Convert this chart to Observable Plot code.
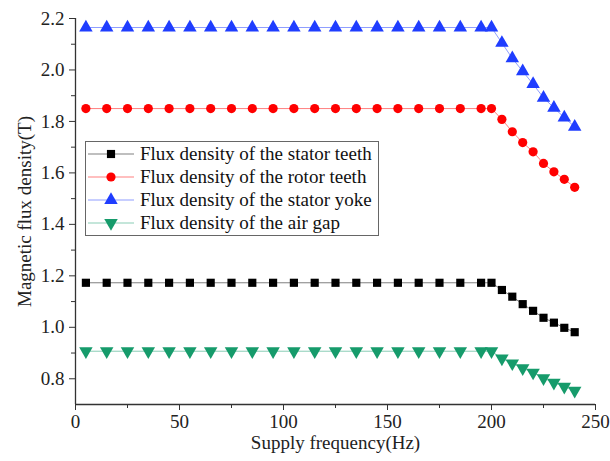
<!DOCTYPE html>
<html>
<head>
<meta charset="utf-8">
<script src="https://cdn.jsdelivr.net/npm/d3@7"></script>
<script src="https://cdn.jsdelivr.net/npm/@observablehq/plot@0.6"></script>
<style>
  html, body { margin: 0; padding: 0; background: #fff; }
  #wrap { position: relative; width: 610px; height: 461px; font-family: "Liberation Serif", "Times New Roman", serif; }
  #chart svg, #chart svg text { font-family: "Liberation Serif", "Times New Roman", serif !important; }
  #legend { position: absolute; left: 85px; top: 141px; width: 294px; height: 95px; border: 1px solid #666; background: #fff; box-sizing: border-box; padding-top: 0px; }
  .row { display: flex; align-items: center; height: 23px; font-size: 19px; color: #111; }
  .row svg { flex: none; margin-left: 2px; margin-right: 6px; }
</style>
</head>
<body>
<div id="wrap"><div id="chart"></div><div id="legend"></div></div>
<script>
const freqs = [5,15,25,35,45,55,65,75,85,95,105,115,125,135,145,155,165,175,185,195,200,205,210,215,220,225,230,235,240];
const statorTeeth = [1.173,1.173,1.173,1.173,1.173,1.173,1.173,1.173,1.173,1.173,1.173,1.173,1.173,1.173,1.173,1.173,1.173,1.173,1.173,1.173,1.173,1.145,1.119,1.090,1.064,1.037,1.018,0.998,0.981];
const rotorTeeth = [1.85,1.85,1.85,1.85,1.85,1.85,1.85,1.85,1.85,1.85,1.85,1.85,1.85,1.85,1.85,1.85,1.85,1.85,1.85,1.85,1.85,1.808,1.760,1.718,1.682,1.637,1.604,1.575,1.544];
const statorYoke = [2.165,2.165,2.165,2.165,2.165,2.165,2.165,2.165,2.165,2.165,2.165,2.165,2.165,2.165,2.165,2.165,2.165,2.165,2.165,2.165,2.165,2.105,2.045,1.995,1.945,1.892,1.853,1.815,1.779];
const airGap = [0.907,0.907,0.907,0.907,0.907,0.907,0.907,0.907,0.907,0.907,0.907,0.907,0.907,0.907,0.907,0.907,0.907,0.907,0.907,0.907,0.907,0.879,0.860,0.841,0.824,0.802,0.785,0.769,0.754];
const seriesNames = ["Flux density of the stator teeth","Flux density of the rotor teeth","Flux density of the stator yoke","Flux density of the air gap"];
const seriesColors = ["#000000","#ff0000","#1f3dff","#169b6b"];
const seriesSymbols = ["square","circle","triangle","triangle"];
const seriesRotate = [0,0,0,180];
const xTicks = [0,50,100,150,200,250];
const xMinor = [25,75,125,175,225];
const yTicks = [0.8,1.0,1.2,1.4,1.6,1.8,2.0,2.2];
const yMinor = [0.9,1.1,1.3,1.5,1.7,1.9,2.1];

const allSeries = [statorTeeth, rotorTeeth, statorYoke, airGap];
const rows = [];
allSeries.forEach((vals, s) => vals.forEach((v, i) => rows.push({f: freqs[i], b: v, s})));

const marks = [];
allSeries.forEach((vals, s) => {
  const d = rows.filter(r => r.s === s);
  marks.push(Plot.line(d, {x: "f", y: "b", stroke: seriesColors[s], strokeWidth: 1, strokeOpacity: 0.5}));
  marks.push(Plot.dot(d, {x: "f", y: "b", symbol: seriesSymbols[s], fill: seriesColors[s], r: s >= 2 ? 5 : 4.6, rotate: seriesRotate[s], stroke: "none"}));
});

const chart = Plot.plot({
  width: 610,
  height: 461,
  marginLeft: 75,
  marginRight: 15,
  marginTop: 18,
  marginBottom: 57,
  style: {fontFamily: "Liberation Serif, serif", fontSize: "19px", color: "#222", background: "#fff"},
  x: {domain: [0, 250]},
  y: {domain: [0.7, 2.2]},
  marks: [
    Plot.axisX({ticks: xMinor, tickSize: 4, tickFormat: () => "", label: null, stroke: "#333"}),
    Plot.axisX({ticks: xTicks, tickSize: 6, tickPadding: 4, label: "Supply frequency(Hz)", labelAnchor: "center", labelArrow: "none", labelOffset: 44, stroke: "#333", fill: "#222"}),
    Plot.axisY({ticks: yMinor, tickSize: 4, tickFormat: () => "", label: null, stroke: "#333"}),
    Plot.axisY({ticks: yTicks, tickSize: 6, tickPadding: 5, tickFormat: d3.format(".1f"), label: "Magnetic flux density(T)", labelAnchor: "center", labelArrow: "none", labelOffset: 58, stroke: "#333", fill: "#222"}),
    Plot.ruleX([0], {stroke: "#333", strokeWidth: 1.3}),
    Plot.ruleY([0.7], {stroke: "#333", strokeWidth: 1.3}),
    ...marks
  ]
});
document.getElementById("chart").appendChild(chart);

const legend = document.getElementById("legend");
const symPaths = seriesSymbols.map((sym, s) => {
  const type = sym === "square" ? d3.symbolSquare : sym === "circle" ? d3.symbolCircle : d3.symbolTriangle;
  const r = s >= 2 ? 5 : 4.6;
  return d3.symbol(type, Math.PI * r * r)();
});
seriesNames.forEach((name, s) => {
  const row = document.createElement("div");
  row.className = "row";
  const ns = "http://www.w3.org/2000/svg";
  const svg = document.createElementNS(ns, "svg");
  svg.setAttribute("width", 46); svg.setAttribute("height", 20);
  const line = document.createElementNS(ns, "line");
  line.setAttribute("x1", 0); line.setAttribute("x2", 46); line.setAttribute("y1", 10); line.setAttribute("y2", 10);
  line.setAttribute("stroke", seriesColors[s]); line.setAttribute("stroke-opacity", 0.5);
  svg.appendChild(line);
  const p = document.createElementNS(ns, "path");
  p.setAttribute("d", symPaths[s]);
  p.setAttribute("fill", seriesColors[s]);
  p.setAttribute("transform", `translate(23,10) rotate(${seriesRotate[s]})`);
  svg.appendChild(p);
  row.appendChild(svg);
  const t = document.createElement("span");
  t.textContent = name;
  row.appendChild(t);
  legend.appendChild(row);
});
</script>
</body>
</html>
